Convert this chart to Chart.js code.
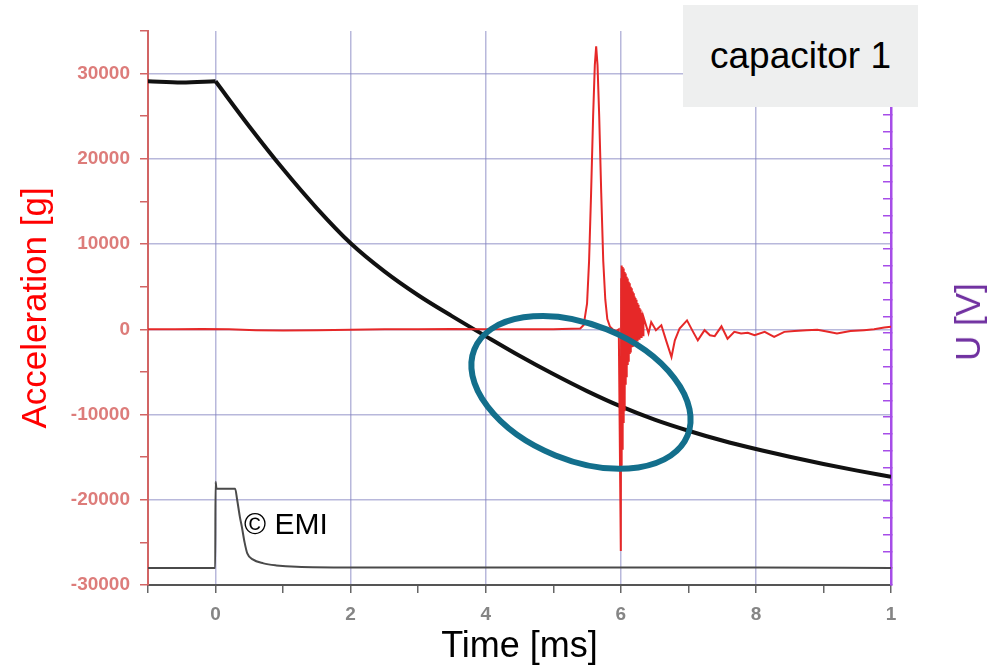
<!DOCTYPE html>
<html>
<head>
<meta charset="utf-8">
<script src="https://cdn.jsdelivr.net/npm/chart.js@4"></script>
<style>
    body { margin: 0; background: #fff; }
    #wrap { position: relative; width: 993px; height: 670px; }
    .note { position: absolute; font-family: "Liberation Sans", Arial, sans-serif; color: #000; }
    #capBox { left: 683px; top: 5px; width: 235px; height: 102px; background: #eeefef; font-size: 37px; line-height: 102px; text-align: center; }
    #emi { left: 244px; top: 507px; font-size: 30px; }
    #uAxis { left: 968px; top: 322px; font-size: 35px; color: #7030a0; transform: translate(-50%, -50%) rotate(-90deg); white-space: nowrap; }
</style>
</head>
<body>
<div id="wrap">
    <canvas id="scopeChart" width="993" height="670"></canvas>
    <div class="note" id="capBox">capacitor 1</div>
    <div class="note" id="emi">© EMI</div>
    <div class="note" id="uAxis">U [V]</div>
</div>
<script>
// capacitor voltage (thick black), trigger at t = 0
const blackT = [-1, -0.5, 0, 0.5, 1.0, 1.5, 2.0, 2.5, 3.0, 3.5, 4.0, 4.5, 5.0, 5.5, 6.0, 6.5, 7.0, 7.5, 8.0, 8.5, 9.0, 9.5, 10];
const blackV = [29100, 28950, 29100, 23800, 18800, 14200, 10100, 6800, 4000, 1550, -800, -3100, -5250, -7250, -9050, -10600, -11900, -13050, -14050, -14950, -15800, -16580, -17300];

// acceleration (red): baseline, launch peak, ringing after impact at 6 ms
const redT = [-1, -0.6, -0.2, 0.2, 0.6, 1.0, 1.5, 2.0, 2.5, 3.0, 3.5, 4.0, 4.5, 5.0, 5.4,
    5.45, 5.5, 5.53, 5.56, 5.59, 5.615, 5.635, 5.655, 5.68, 5.71, 5.74, 5.77, 5.8, 5.84, 5.88, 5.93, 5.97,
    6.000, 6.005, 6.010, 6.015, 6.020, 6.025, 6.030, 6.035, 6.040, 6.045, 6.050, 6.055, 6.060, 6.065, 6.070, 6.075,
    6.080, 6.085, 6.090, 6.095, 6.100, 6.105, 6.110, 6.115, 6.120, 6.125, 6.130, 6.135, 6.140, 6.145, 6.150, 6.155,
    6.160, 6.165, 6.170, 6.175, 6.180, 6.185, 6.190, 6.195, 6.200, 6.205, 6.210, 6.215, 6.220, 6.225, 6.230, 6.235,
    6.240, 6.245, 6.250, 6.255, 6.260, 6.265, 6.270, 6.275, 6.280, 6.285, 6.290, 6.295, 6.300, 6.305, 6.310, 6.315,
    6.320, 6.325, 6.330, 6.335,
    6.41, 6.45, 6.52, 6.60, 6.67, 6.75, 6.80, 6.87, 6.98, 7.07, 7.14, 7.24, 7.32, 7.39, 7.49, 7.58, 7.68, 7.78, 7.88,
    7.98, 8.13, 8.27, 8.42, 8.57, 8.75, 8.91, 9.05, 9.2, 9.4, 9.6, 9.75, 9.9, 10];
const redV = [0, 0, 50, 0, -100, -150, -100, -50, 0, 0, 50, 0, 0, 0, 100,
    500, 3000, 8000, 16000, 25000, 31000, 33200, 31000, 25000, 16000, 8000, 3500, 1200, 300, 0, -200, 0,
    -26000, 6000, -16000, 7500, -14000, 7300, -12500, 7120, -11000, 6920, -9500, 6730, -8000, 6540, -6500, 6350,
    -5500, 6160, -4800, 5960, -4200, 5770, -3700, 5580, -3300, 5390, -2900, 5200, -2600, 5000, -2350, 4810,
    -2100, 4620, -1950, 4430, -1800, 4240, -1700, 4040, -1600, 3850, -1500, 3660, -1400, 3470, -1350, 3280,
    -1300, 3080, -1200, 2890, -1150, 2700, -1100, 2510, -1000, 2320, -950, 2120, -900, 1930, -850, 1740,
    -800, 1550, -700, 1450,
    -470, 850, -100, 470, -1300, -3250, -1300, 100, 1050, -300, -1300, -100, -700, -800, 350, -1100, -300, -500, -400,
    -700, -300, -900, -300, -200, -100, -50, -250, -500, -200, -100, 0, 200, 300];

// trigger pulse (thin dark grey)
const pulseT = [-1, -0.005, 0, 0.015, 0.29, 0.32, 0.36, 0.39, 0.43, 0.47, 0.55, 0.71, 0.9, 1.2, 2, 4, 6, 8, 10];
const pulseV = [-28000, -28000, -17900, -18700, -18700, -20000, -22000, -23200, -25000, -26300, -27000, -27460, -27700, -27870, -27950, -27950, -27950, -27950, -28000];

// marked region (ellipse centre in data units)
const ringT = 5.41;
const ringV = -7400;

const gridColor = "rgba(125, 125, 190, 0.55)";
const redAxis = "#d26464";

const toPoints = (ts, vs) => ts.map((t, i) => ({ x: t, y: vs[i] }));
const blackPts = toPoints(blackT, blackV);

const ringPlugin = {
    id: "ring",
    afterDatasetsDraw(chart) {
        const c = chart.ctx;
        const cx = chart.scales.x.getPixelForValue(ringT);
        const cy = chart.scales.y.getPixelForValue(ringV);
        c.save();
        c.beginPath();
        c.ellipse(cx, cy, 115, 68, 22 * Math.PI / 180, 0, 2 * Math.PI);
        c.lineWidth = 6;
        c.strokeStyle = "#136f8c";
        c.stroke();
        c.restore();
    }
};

Chart.defaults.font.family = "'Liberation Sans', Arial, sans-serif";

const blackLine = {
    showLine: true,
    borderColor: "#111",
    borderWidth: 4,
    pointRadius: 0,
    cubicInterpolationMode: "monotone",
};

new Chart(document.getElementById("scopeChart"), {
    type: "scatter",
    data: {
        datasets: [
            {
                label: "acceleration",
                data: toPoints(redT, redV),
                showLine: true,
                borderColor: "#e62828",
                borderWidth: 2,
                pointRadius: 0,
                tension: 0,
            },
            {
                label: "pulse",
                data: toPoints(pulseT, pulseV),
                showLine: true,
                borderColor: "#4a4a4a",
                borderWidth: 2,
                pointRadius: 0,
                cubicInterpolationMode: "monotone",
            },
            // voltage split at the trigger so the corner stays sharp
            { label: "voltage", data: blackPts.filter(p => p.x <= 0), ...blackLine },
            { label: "voltage", data: blackPts.filter(p => p.x >= 0), ...blackLine },
        ]
    },
    options: {
        responsive: false,
        animation: false,
        layout: { padding: { top: 31 } },
        plugins: {
            legend: { display: false },
            tooltip: { enabled: false },
        },
        scales: {
            x: {
                type: "linear",
                min: -1,
                max: 10,
                afterFit: s => { s.height = 85; },
                border: { color: "#555", width: 2 },
                grid: {
                    color: ctx => (ctx.tick && ctx.tick.value % 2 === 0 && ctx.tick.value < 10) ? gridColor : "transparent",
                    tickColor: "#666",
                    tickLength: 8,
                    lineWidth: 1.5,
                },
                ticks: {
                    stepSize: 1,
                    autoSkip: false,
                    maxRotation: 0,
                    padding: 10,
                    color: "#858585",
                    font: { size: 19, weight: "bold" },
                    callback: v => v % 2 === 0 ? (v === 10 ? "1" : String(v)) : "",
                },
                title: {
                    display: true,
                    text: "Time [ms]",
                    color: "#000",
                    font: { size: 36 },
                    padding: { top: 0, bottom: 1 },
                },
            },
            y: {
                type: "linear",
                position: "left",
                min: -30000,
                max: 35000,
                afterFit: s => { s.width = 148; },
                border: { color: redAxis, width: 2 },
                grid: {
                    color: ctx => (ctx.tick && ctx.tick.value % 10000 === 0) ? gridColor : "transparent",
                    tickColor: redAxis,
                    tickLength: 8,
                    lineWidth: 1.5,
                },
                ticks: {
                    stepSize: 5000,
                    autoSkip: false,
                    padding: 10,
                    color: "#dd7c7a",
                    font: { size: 19, weight: "bold" },
                    callback: v => v % 10000 === 0 ? String(v) : "",
                },
                title: {
                    display: true,
                    text: "Acceleration [g]",
                    color: "#ff0000",
                    font: { size: 35 },
                    padding: { top: 15, bottom: 0 },
                },
            },
            y2: {
                type: "linear",
                position: "right",
                min: -30000,
                max: 35000,
                afterFit: s => { s.width = 102; },
                border: { color: "#a64de8", width: 2.5 },
                grid: {
                    drawOnChartArea: false,
                    color: "#a64de8",
                    tickLength: -8,
                    lineWidth: 1.5,
                },
                ticks: {
                    stepSize: 2000,
                    autoSkip: false,
                    callback: () => "",
                },
            },
        }
    },
    plugins: [ringPlugin]
});
</script>
</body>
</html>
